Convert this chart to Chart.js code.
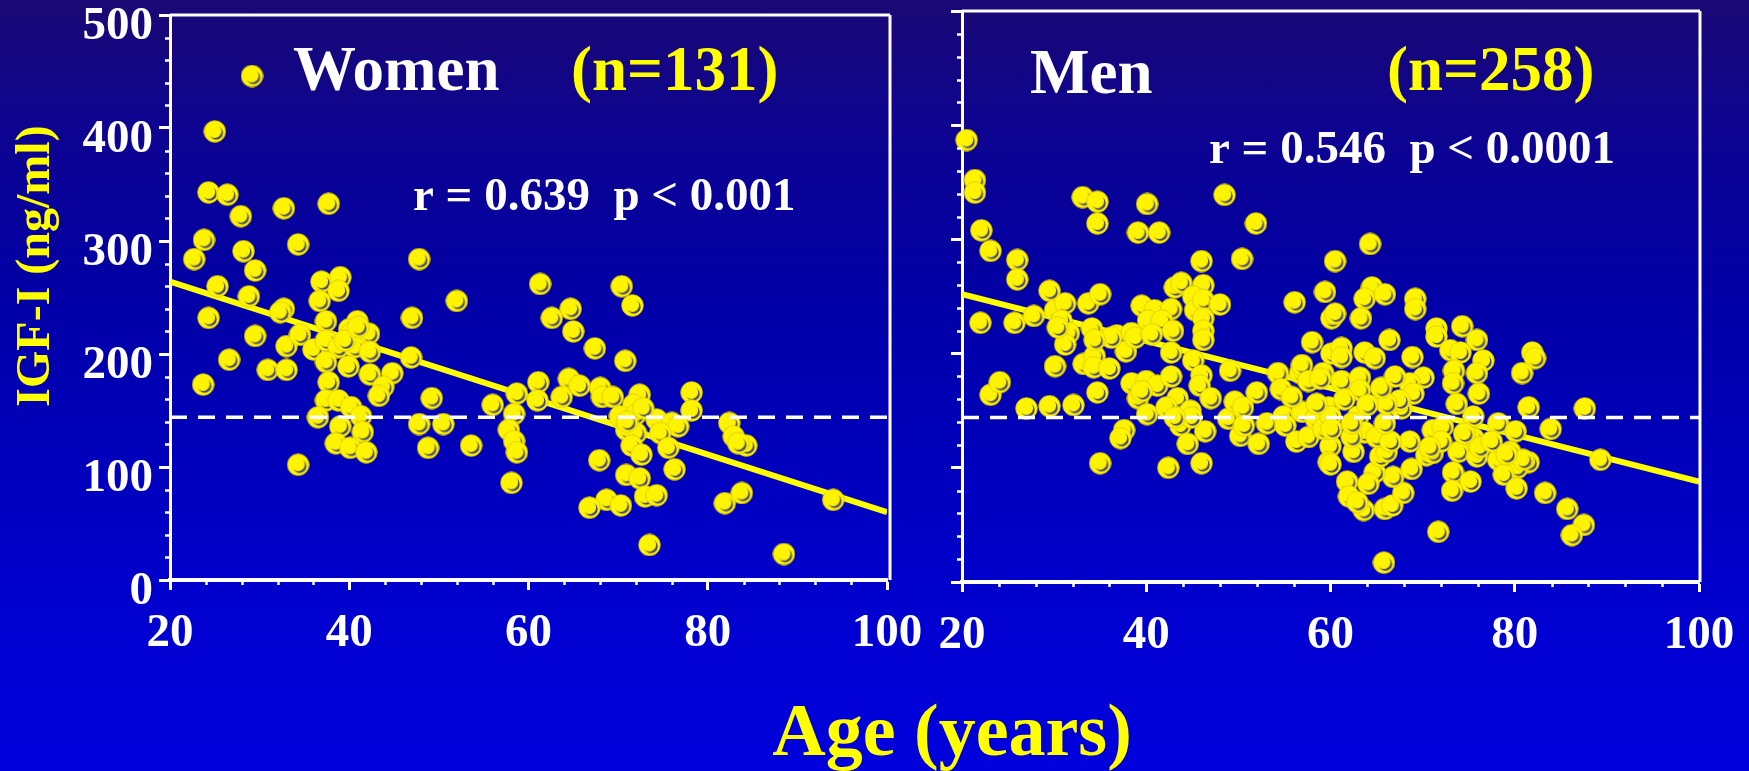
<!DOCTYPE html>
<html>
<head>
<meta charset="utf-8">
<title>IGF-I vs Age</title>
<script src="https://cdn.jsdelivr.net/npm/chart.js@4.4.1/dist/chart.umd.min.js"></script>
<style>
  html, body { margin: 0; padding: 0; }
  body {
    width: 1749px; height: 771px; overflow: hidden; position: relative;
    background: linear-gradient(to bottom, #1a0874 0%, #0e0490 16%, #0200a6 38%, #0000bc 60%, #0000d2 82%, #0000dc 100%);
    font-family: 'Liberation Serif', 'Times New Roman', serif;
  }
  #wrapA { position: absolute; left: 0; top: 0; width: 940px; height: 680px; }
  #wrapB { position: absolute; left: 880px; top: 0; width: 869px; height: 680px; }
  #xTitle {
    position: absolute; left: 652px; width: 600px; top: 693px;
    text-align: center; color: #ffff00; font-weight: bold; font-size: 74px; line-height: 74px;
    white-space: nowrap;
  }
</style>
</head>
<body>
<div id="wrapA"><canvas id="women"></canvas></div>
<div id="wrapB"><canvas id="men"></canvas></div>
<div id="xTitle">Age (years)</div>

<script>
// ---- data ----
const ageTicks = [20, 40, 60, 80, 100];
const igfTicks = [0, 100, 200, 300, 400, 500];

const womenAge = [
  25.0, 24.3, 26.4, 27.9, 32.7, 37.7, 23.8, 22.7, 28.2, 34.3, 47.8, 29.5, 25.3, 28.8, 36.9,
  39.0, 38.8, 36.7, 52.0, 24.3, 32.7, 32.3, 47.0, 37.4, 40.9, 42.2, 40.0, 29.5, 61.3,
  33.0, 34.5, 36.0, 37.4, 38.8, 40.2, 40.6, 42.3, 46.9, 26.6,
  30.9, 33.0, 23.7, 37.4, 39.9, 37.7, 42.3, 44.8, 43.8, 43.3,
  49.2, 37.4, 38.8, 40.2, 41.3, 36.5, 39.0, 41.5, 38.5, 40.1,
  41.9, 34.3, 47.8, 50.5, 48.8, 53.6, 56.0, 58.7, 58.4, 57.8,
  58.4, 58.7, 58.1, 61.1, 61.0,
  70.4, 71.6, 64.7, 62.6, 65.0, 67.4, 70.8, 64.5, 65.7, 68.0,
  68.2, 69.4, 72.4, 63.7, 78.2, 78.2, 71.7, 70.2, 71.9, 74.3,
  76.0, 76.7, 70.9, 72.0, 74.7, 71.5, 72.6, 75.6, 82.4, 82.9,
  84.3, 83.4, 67.9, 76.3, 70.9, 72.4, 73.0, 74.3, 68.7, 66.8,
  70.3, 81.9, 83.8, 94.0, 73.5, 88.5,
  39.5, 41.0, 71.0, 72.8
];
const womenIgf = [
  397, 343, 341, 322, 329, 333, 301, 284, 291, 297, 284, 274, 260, 251, 264,
  268, 256, 247, 247, 232, 240, 237, 232, 229, 229, 218, 222, 216, 262,
  207, 217, 204, 212, 206, 218, 206, 202, 197, 195,
  186, 186, 173, 193, 189, 175, 182, 183, 171, 163,
  161, 159, 159, 153, 145, 144, 136, 131, 121, 117,
  113, 102, 138, 138, 117, 119, 155, 165, 147, 133,
  123, 113, 86, 175, 159,
  260, 243, 240, 232, 220, 205, 194, 178, 172, 170,
  162, 162, 164, 162, 166, 150, 155, 145, 146, 142,
  139, 136, 133, 130, 130, 119, 111, 117, 139, 127,
  119, 121, 106, 98, 93, 90, 74, 75, 71, 64,
  66, 68, 77, 71, 31, 23,
  212, 224, 140, 152
];

const menAge = [
  20.5, 21.4, 21.4, 22.1, 23.1, 26.0, 26.0, 33.1, 34.7, 34.7,
  40.1, 39.1, 41.4, 48.5, 51.9, 46.0, 50.4, 60.5, 29.5, 22.0,
  25.7, 27.8, 30.1, 31.2, 33.7, 35.0, 30.8, 31.6, 34.1, 36.8,
  39.5, 40.9, 42.7, 40.2, 41.7, 42.9, 38.4, 43.1, 43.8, 46.2,
  45.1, 45.3, 46.2, 48.0, 46.2, 46.2, 46.2, 56.1, 59.4, 60.1,
  58.0, 60.5,
  31.2, 30.1, 33.2, 34.4, 34.3, 36.0, 37.8, 38.4, 40.0, 41.2,
  39.1, 42.7, 42.7, 45.1, 46.0, 45.8, 47.0, 49.1, 43.4, 44.8,
  43.7, 44.5, 46.4, 40.1, 37.6, 37.2, 35.0, 42.4, 46.0, 23.1,
  24.1, 27.0, 29.5, 32.1, 34.7, 48.9, 49.6, 50.5, 50.2, 50.6,
  52.2, 52.0, 53.1, 54.3, 54.6, 54.9, 55.1, 56.7, 56.9, 56.3,
  57.6, 59.2, 60.1, 60.0, 59.8, 58.4, 59.8, 59.2, 36.2, 38.8,
  40.6, 39.5, 42.2, 44.9, 43.1, 56.9, 57.6, 55.8, 30.4, 34.4,
  64.3, 64.5, 63.7, 65.9, 69.2, 69.2, 63.3, 61.2, 61.2, 66.4,
  63.7, 64.8, 68.9, 71.5, 71.5, 74.3, 75.9, 73.0, 74.1, 76.6,
  73.4, 75.9, 81.9, 82.2, 80.8, 61.2, 63.2, 70.1, 73.3, 76.1,
  68.6,
  73.7, 81.5, 87.6, 83.9, 89.3, 75.5, 78.2, 80.1, 75.5, 73.9,
  75.9, 78.2, 81.5, 80.3, 78.8, 73.3, 75.2, 73.2, 80.2, 83.3,
  85.7, 87.5, 86.2, 71.7, 65.8, 60.0, 63.0, 63.7, 62.5, 61.8,
  62.0, 63.6, 65.9, 66.7, 67.9, 66.8, 64.8, 65.4, 66.1, 68.8,
  70.4, 71.1, 68.6, 65.0, 66.5, 62.3, 62.3, 65.9, 67.7, 69.0,
  67.5, 66.1, 71.1, 72.2, 72.0, 70.8, 76.2, 77.5, 79.5, 80.9,
  74.5, 79.1, 58.9, 60.0, 58.5, 60.1, 64.1, 62.9, 63.2, 65.5,
  67.0, 61.5, 64.0
];
const menIgf = [
  387, 352, 341, 308, 290, 282, 265, 337, 333, 314,
  331, 306, 306, 339, 314, 281, 283, 281, 255, 227,
  227, 233, 238, 244, 244, 252, 229, 218, 222, 216,
  242, 238, 239, 229, 229, 220, 218, 258, 262, 260,
  250, 238, 247, 243, 231, 220, 212, 245, 254, 231,
  210, 235,
  208, 189, 191, 198, 188, 187, 202, 174, 176, 172,
  161, 180, 201, 194, 181, 172, 161, 185, 161, 150,
  137, 121, 132, 147, 133, 126, 104, 100, 104, 164,
  175, 152, 154, 155, 166, 143, 158, 153, 128, 137,
  121, 166, 139, 183, 169, 145, 137, 183, 149, 123,
  127, 183, 200, 119, 105, 143, 153, 134, 214, 214,
  217, 167, 153, 144, 144, 190, 176, 162, 223, 212,
  296, 258, 248, 252, 248, 239, 231, 205, 197, 212,
  201, 196, 197, 222, 215, 224, 212, 203, 201, 194,
  185, 183, 201, 196, 183, 176, 179, 179, 174, 165,
  174,
  156, 153, 152, 134, 107, 145, 139, 132, 126, 114,
  110, 107, 105, 100, 94, 96, 88, 80, 82, 78,
  64, 50, 41, 44, 17, 103, 145, 131, 114, 88,
  75, 63, 64, 67, 78, 92, 96, 110, 114, 99,
  111, 113, 123, 127, 123, 127, 139, 139, 152, 165,
  159, 156, 133, 136, 123, 118, 118, 123, 114, 107,
  130, 112, 178, 145, 156, 134, 86, 70, 168, 170,
  180, 160, 155
];

// regression lines (value at each end of the age range) and the reference level
const fitAges = [20, 100];
const womenFit = [264, 60];
const menFit = [252, 88];
const refLevel = 144;

// ---- styling helpers ----
const YELLOW = '#ffff00';
const DOT = '#fff400';
const WHITE = '#ffffff';
const FONT = "'Liberation Serif', 'Times New Roman', serif";
Chart.defaults.font.family = FONT;

// yellow bead marker with a small dark crescent
function makeMarker() {
  const c = document.createElement('canvas');
  c.width = 23; c.height = 23;
  const g = c.getContext('2d');
  g.fillStyle = DOT;
  g.beginPath(); g.arc(11.5, 11.5, 10.8, 0, Math.PI * 2); g.fill();
  g.strokeStyle = '#d8c600'; g.lineWidth = 0.8; g.stroke();
  g.fillStyle = '#4b4b78';
  g.beginPath(); g.arc(12.9, 12.9, 6.8, 0, Math.PI * 2); g.fill();
  g.fillStyle = DOT;
  g.beginPath(); g.arc(11.3, 11.3, 6.8, 0, Math.PI * 2); g.fill();
  return c;
}
const marker = makeMarker();

const toPoints = (xs, ys) => xs.map((x, i) => ({ x: x, y: ys[i] }));

// minor ticks on both axes + the top/right frame lines
const framePlugin = {
  id: 'frame',
  afterDraw(chart, args, opts) {
    const { ctx, chartArea: a, scales: { x, y } } = chart;
    ctx.save();
    ctx.strokeStyle = WHITE;
    ctx.lineWidth = 3;
    ctx.beginPath();
    ctx.moveTo(a.left, a.top); ctx.lineTo(a.right + opts.rightGap, a.top);
    ctx.moveTo(a.right + opts.rightGap, a.top); ctx.lineTo(a.right + opts.rightGap, a.bottom);
    ctx.stroke();
    ctx.lineWidth = 2.5;
    ctx.beginPath();
    for (let v = x.min + opts.xMinor; v < x.max; v += opts.xMinor) {
      if (ageTicks.includes(v)) continue;
      const px = Math.round(x.getPixelForValue(v)) + 0.5;
      ctx.moveTo(px, a.bottom); ctx.lineTo(px, a.bottom + 5);
    }
    for (let v = y.min + opts.yMinor; v < y.max; v += opts.yMinor) {
      if (igfTicks.includes(v)) continue;
      const py = Math.round(y.getPixelForValue(v)) + 0.5;
      ctx.moveTo(a.left - 5, py); ctx.lineTo(a.left, py);
    }
    ctx.stroke();
    ctx.restore();
  }
};

// panel captions
const captionPlugin = {
  id: 'captions',
  afterDraw(chart, args, opts) {
    const ctx = chart.ctx;
    ctx.save();
    ctx.textBaseline = 'alphabetic';
    for (const it of opts.items) {
      ctx.font = 'bold ' + it.size + 'px ' + FONT;
      ctx.fillStyle = it.color;
      ctx.textAlign = 'left';
      ctx.fillText(it.text, it.x, it.y);
    }
    if (opts.bullet) ctx.drawImage(marker, opts.bullet.x - 11.5, opts.bullet.y - 11.5);
    if (opts.yTitle) {
      const t = opts.yTitle;
      ctx.translate(t.x, t.y);
      ctx.rotate(-Math.PI / 2);
      ctx.font = 'bold ' + t.size + 'px ' + FONT;
      ctx.fillStyle = t.color;
      ctx.textAlign = 'center';
      ctx.fillText(t.text, 0, 0);
    }
    ctx.restore();
  }
};

function buildChart(id, pts, fit, cfg) {
  const tickFont = { family: FONT, weight: 'bold', size: 47 };
  return new Chart(document.getElementById(id), {
    type: 'scatter',
    data: {
      datasets: [
        {
          type: 'line',
          data: fitAges.map(a => ({ x: a, y: refLevel })),
          borderColor: WHITE, borderWidth: 3.5, borderDash: [17, 11],
          pointRadius: 0, fill: false
        },
        {
          data: pts,
          pointStyle: marker, pointRadius: 10, clip: false
        },
        {
          type: 'line',
          data: fitAges.map((a, i) => ({ x: a, y: fit[i] })),
          borderColor: YELLOW, borderWidth: 6, pointRadius: 0, fill: false
        }
      ]
    },
    options: {
      responsive: true,
      maintainAspectRatio: false,
      animation: false,
      events: [],
      layout: { padding: cfg.padding },
      plugins: {
        legend: { display: false },
        tooltip: { enabled: false },
        frame: { rightGap: cfg.rightGap, xMinor: 4, yMinor: 20 },
        captions: cfg.captions
      },
      scales: {
        x: {
          type: 'linear', min: 20, max: 100,
          afterFit(s) { s.height = 80; s.paddingLeft = 0; s.paddingRight = 0; },
          afterBuildTicks(s) { s.ticks = ageTicks.map(v => ({ value: v })); },
          border: { display: true, color: WHITE, width: 4 },
          grid: { drawOnChartArea: false, drawTicks: true, tickLength: 10, tickWidth: 3, tickColor: WHITE },
          ticks: { color: WHITE, font: tickFont, padding: 16, maxRotation: 0, autoSkip: false }
        },
        y: {
          type: 'linear', min: 0, max: 500,
          afterFit(s) { s.width = cfg.yWidth; s.paddingTop = 0; s.paddingBottom = 0; },
          afterBuildTicks(s) { s.ticks = igfTicks.map(v => ({ value: v })); },
          border: { display: true, color: WHITE, width: 3 },
          grid: { drawOnChartArea: false, drawTicks: true, tickLength: 11, tickWidth: 3, tickColor: WHITE },
          ticks: {
            display: cfg.yLabels, color: WHITE, font: tickFont, padding: 6, labelOffset: 12,
            autoSkip: false
          }
        }
      }
    },
    plugins: [framePlugin, captionPlugin]
  });
}

buildChart('women', toPoints(womenAge, womenIgf), womenFit, {
  padding: { left: 0, right: 53, top: 15, bottom: 20 },
  yWidth: 170, yLabels: true, rightGap: 3,
  captions: {
    items: [
      { text: 'Women', x: 293, y: 90, size: 63, color: WHITE },
      { text: '(n=131)', x: 571, y: 90, size: 63, color: YELLOW },
      { text: 'r = 0.639  p < 0.001', x: 413, y: 210, size: 47, color: WHITE }
    ],
    bullet: { x: 252, y: 76 },
    yTitle: { text: 'IGF-I (ng/ml)', x: 49, y: 266, size: 48, color: YELLOW }
  }
});

buildChart('men', toPoints(menAge, menIgf), menFit, {
  padding: { left: 0, right: 50, top: 7, bottom: 18 },
  yWidth: 82, yLabels: false, rightGap: 1,
  captions: {
    items: [
      { text: 'Men', x: 150, y: 93, size: 63, color: WHITE },
      { text: '(n=258)', x: 507, y: 90, size: 63, color: YELLOW },
      { text: 'r = 0.546  p < 0.0001', x: 329, y: 163, size: 47, color: WHITE }
    ]
  }
});
</script>
</body>
</html>
